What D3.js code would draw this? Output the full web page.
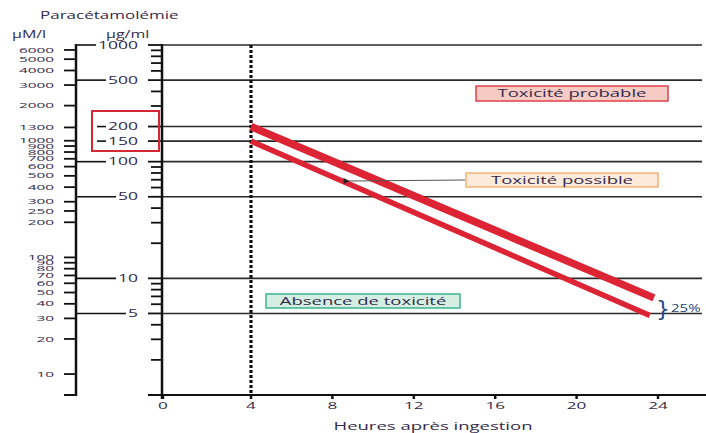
<!DOCTYPE html>
<html>
<head>
<meta charset="utf-8">
<script src="https://cdn.jsdelivr.net/npm/d3@7"></script>
<style>
  body { margin: 0; background: #fff; }
  text { font-family: "Open Sans", sans-serif; fill: #33294a; }
</style>
</head>
<body>
<div id="viz"></div>
<script>
// values
var umolTicks = [6000, 5000, 4000, 3000, 2000, 1300, 1000, 900, 800, 700, 600, 500, 400, 300, 250, 200, 100, 90, 80, 70, 60, 50, 40, 30, 20, 10];
var ugLabels = [1000, 500, 200, 150, 100, 50, 10, 5];
var ugMinor = [900, 800, 700, 600, 400, 300, 90, 80, 70, 60, 40, 30, 20, 9, 8, 7, 6, 4, 3, 2];
var hourTicks = [0, 4, 8, 12, 16, 20, 24];
var upperHours = [4, 23.8], upperValues = [200, 6.8];
var lowerHours = [4, 23.6], lowerValues = [150, 4.8];
var umolPerUg = 6.615; // paracetamol, 151.2 g/mol

var W = 706, H = 433;
var svg = d3.select("#viz").append("svg").attr("width", W).attr("height", H);

var y = d3.scaleLog().domain([1, 1000]).range([395, 45]);
var x = d3.scaleLinear().domain([0, 4, 24]).range([163, 251, 658]);

var leftAxisX = 76, rightAxisX = x(0) - 1, gridEnd = 702;
var SX = 1.85; // the printed font is very wide

function label(g, px, py, str, size, anchor, sx) {
    return g.append("text")
        .attr("transform", "translate(" + px + "," + py + ") scale(" + (sx || SX) + ",1)")
        .attr("text-anchor", anchor || "start")
        .style("font-size", size + "px")
        .text(str);
}

// titles
label(svg, 40, 19, "Paracétamolémie", 10, "start", 1.7);
label(svg, 12, 38, "µM/l", 10, "start", 1.6);
label(svg, 106, 38, "µg/ml", 10, "start", 1.6);

// horizontal gridlines
svg.selectAll("line.grid").data(ugLabels).enter().append("line")
    .attr("class", "grid")
    .attr("x1", rightAxisX).attr("x2", gridEnd)
    .attr("y1", function(d){ return y(d); }).attr("y2", function(d){ return y(d); })
    .style("stroke", "#2b2b2b").style("stroke-width", 1.6);

// left axis (µM/l)
svg.append("line").attr("x1", leftAxisX).attr("x2", leftAxisX).attr("y1", 44).attr("y2", 396)
    .style("stroke", "#111").style("stroke-width", 2.5);
svg.append("line").attr("x1", 64).attr("x2", leftAxisX).attr("y1", y(1)).attr("y2", y(1))
    .style("stroke", "#111").style("stroke-width", 2);
var um = svg.append("g");
umolTicks.forEach(function(v){
    var py = y(v / umolPerUg);
    um.append("line").attr("x1", 64).attr("x2", leftAxisX).attr("y1", py).attr("y2", py)
        .style("stroke", "#111").style("stroke-width", 1.8);
    label(um, 54, py + 2.6, v, 7.5, "end", 2.05);
});

// right axis (µg/ml)
svg.append("line").attr("x1", rightAxisX).attr("x2", rightAxisX).attr("y1", 44).attr("y2", 399)
    .style("stroke", "#111").style("stroke-width", 2.5);
svg.selectAll("line.minor").data(ugMinor).enter().append("line")
    .attr("class", "minor")
    .attr("x1", 151).attr("x2", rightAxisX)
    .attr("y1", function(d){ return y(d); }).attr("y2", function(d){ return y(d); })
    .style("stroke", "#111").style("stroke-width", 1.8);

var ug = svg.append("g");
ugLabels.forEach(function(v){
    var py = y(v);
    var t = label(ug, 138, py + 3.5, v, 10, "end", 1.75);
    var w = t.node().getComputedTextLength() * 1.75;
    var start = (v === 200 || v === 150) ? 97 : leftAxisX;
    ug.append("line").attr("x1", start).attr("x2", 138 - w - 2).attr("y1", py).attr("y2", py)
        .style("stroke", "#111").style("stroke-width", 1.6);
    ug.append("line").attr("x1", 148).attr("x2", rightAxisX).attr("y1", py).attr("y2", py)
        .style("stroke", "#111").style("stroke-width", 1.8);
});

// red frame around the 200 / 150 thresholds
svg.append("rect").attr("x", 92).attr("y", 111).attr("width", 67).attr("height", 40)
    .style("fill", "none").style("stroke", "#d62834").style("stroke-width", 2);

// x axis
svg.append("line").attr("x1", 148).attr("x2", W).attr("y1", 395).attr("y2", 395)
    .style("stroke", "#111").style("stroke-width", 2);
var xt = svg.append("g");
hourTicks.forEach(function(h){
    xt.append("line").attr("x1", x(h)).attr("x2", x(h)).attr("y1", 395).attr("y2", 399)
        .style("stroke", "#111").style("stroke-width", 2.5);
    label(xt, x(h), 409, h, 9.5, "middle", 1.8);
});
label(svg, 433, 430, "Heures après ingestion", 10, "middle");

// 4 h dotted line
svg.append("line").attr("x1", x(4)).attr("x2", x(4)).attr("y1", 45).attr("y2", 395)
    .style("stroke", "#111").style("stroke-width", 3.2).style("stroke-dasharray", "3,2");

// treatment lines
var lineGen = d3.line().x(function(d){ return x(d[0]); }).y(function(d){ return y(d[1]); });
svg.append("path").datum(d3.zip(upperHours, upperValues)).attr("d", lineGen)
    .style("fill", "none").style("stroke", "#dc2434").style("stroke-width", 7.5);
svg.append("path").datum(d3.zip(lowerHours, lowerValues)).attr("d", lineGen)
    .style("fill", "none").style("stroke", "#dc2434").style("stroke-width", 5.5);

// zone boxes
function zoneBox(bx, by, bw, bh, fill, stroke, txt) {
    svg.append("rect").attr("x", bx).attr("y", by).attr("width", bw).attr("height", bh)
        .style("fill", fill).style("stroke", stroke).style("stroke-width", 1.5);
    label(svg, bx + bw / 2, by + bh / 2 + 3.5, txt, 10, "middle");
}
zoneBox(476, 86, 192, 15, "#f5cbc3", "#e0404c", "Toxicité probable");
zoneBox(466, 173, 192, 14, "#fdeada", "#f2b470", "Toxicité possible");
zoneBox(266, 294, 194, 14, "#d4eee4", "#3cb48c", "Absence de toxicité");

// arrow from "Toxicité possible"
svg.append("defs").append("marker").attr("id", "ah")
    .attr("viewBox", "0 0 10 10").attr("refX", 1).attr("refY", 5)
    .attr("markerWidth", 12).attr("markerHeight", 6).attr("markerUnits", "userSpaceOnUse")
    .attr("orient", "auto")
    .append("path").attr("d", "M10,0 L0,5 L10,10 Z").style("fill", "#222");
svg.append("line").attr("x1", 465).attr("x2", 349).attr("y1", 180).attr("y2", 181)
    .style("stroke", "#555").style("stroke-width", 1.2).attr("marker-end", "url(#ah)");

// 25 % brace
svg.append("text").attr("x", 656).attr("y", 316).style("font-size", "22px")
    .style("font-family", "DejaVu Sans").style("fill", "#24478a").text("}");
label(svg, 671, 312, "25%", 10, "start", 1.5).style("fill", "#2a4575");
</script>
</body>
</html>
